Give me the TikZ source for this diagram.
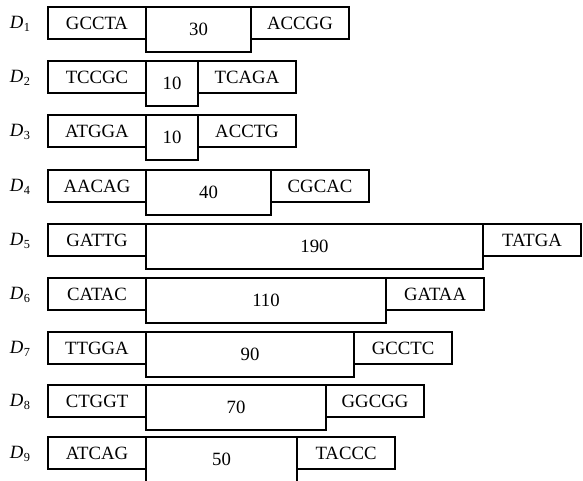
\documentclass[tikz,border=0pt]{standalone}
\usepackage{fontspec}
\setmainfont{Liberation Serif}
\usetikzlibrary{positioning}

\newcommand{\dname}[1]{\textit{D}\kern0.3pt\raisebox{-0.4ex}{\fontsize{10.5}{12}\selectfont #1}}

\begin{document}
\begin{tikzpicture}[x=0.03cm, y=-0.03cm,
  every node/.style={font=\fontsize{16}{18}\selectfont},
  endbox/.style={draw, line width=1.5pt, minimum width=2.94cm, minimum height=0.96cm, inner sep=0pt, outer sep=0pt, anchor=north west},
  gapbox/.style={draw, line width=1.5pt, minimum height=1.35cm, inner sep=0pt, outer sep=0pt, anchor=north west},
  rowname/.style={anchor=center}]
\clip (0,0) rectangle (583,481);

% Row D1
\node[rowname] (n1) at (20,24) {\dname{1}};
\node[endbox] (l1) at (48,7) {GCCTA};
\node[gapbox, minimum width=3.15cm] (m1) at (l1.north east) {30};
\node[endbox] (r1) at (m1.north east) {ACCGG};

% Row D2
\node[rowname] (n2) at (20,78) {\dname{2}};
\node[endbox] (l2) at (48,61) {TCCGC};
\node[gapbox, minimum width=1.56cm] (m2) at (l2.north east) {10};
\node[endbox] (r2) at (m2.north east) {TCAGA};

% Row D3
\node[rowname] (n3) at (20,132) {\dname{3}};
\node[endbox] (l3) at (48,115) {ATGGA};
\node[gapbox, minimum width=1.56cm] (m3) at (l3.north east) {10};
\node[endbox] (r3) at (m3.north east) {ACCTG};

% Row D4
\node[rowname] (n4) at (20,187) {\dname{4}};
\node[endbox] (l4) at (48,170) {AACAG};
\node[gapbox, minimum width=3.75cm] (m4) at (l4.north east) {40};
\node[endbox] (r4) at (m4.north east) {CGCAC};

% Row D5
\node[rowname] (n5) at (20,241) {\dname{5}};
\node[endbox] (l5) at (48,224) {GATTG};
\node[gapbox, minimum width=10.11cm] (m5) at (l5.north east) {190};
\node[endbox] (r5) at (m5.north east) {TATGA};

% Row D6
\node[rowname] (n6) at (20,295) {\dname{6}};
\node[endbox] (l6) at (48,278) {CATAC};
\node[gapbox, minimum width=7.2cm] (m6) at (l6.north east) {110};
\node[endbox] (r6) at (m6.north east) {GATAA};

% Row D7
\node[rowname] (n7) at (20,349) {\dname{7}};
\node[endbox] (l7) at (48,332) {TTGGA};
\node[gapbox, minimum width=6.24cm] (m7) at (l7.north east) {90};
\node[endbox] (r7) at (m7.north east) {GCCTC};

% Row D8
\node[rowname] (n8) at (20,402) {\dname{8}};
\node[endbox] (l8) at (48,385) {CTGGT};
\node[gapbox, minimum width=5.4cm] (m8) at (l8.north east) {70};
\node[endbox] (r8) at (m8.north east) {GGCGG};

% Row D9
\node[rowname] (n9) at (20,454) {\dname{9}};
\node[endbox] (l9) at (48,437) {ATCAG};
\node[gapbox, minimum width=4.53cm] (m9) at (l9.north east) {50};
\node[endbox] (r9) at (m9.north east) {TACCC};
\end{tikzpicture}
\end{document}
